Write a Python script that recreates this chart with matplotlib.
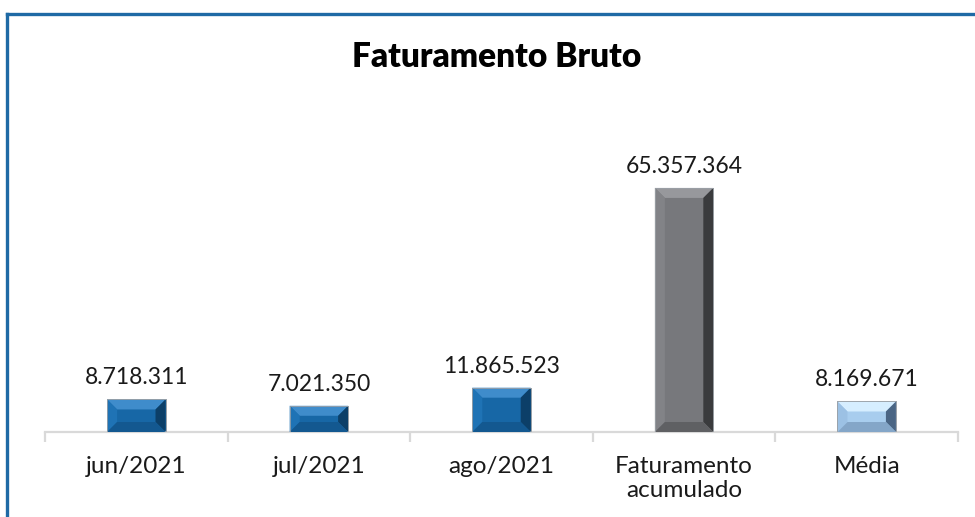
import matplotlib.pyplot as plt
import numpy as np
from matplotlib.patches import Polygon
from matplotlib.lines import Line2D

plt.rcParams['font.family'] = ['Lato', 'DejaVu Sans']

# dados
categorias = ["jun/2021", "jul/2021", "ago/2021", "Faturamento\nacumulado", "Média"]
valores = [8718311, 7021350, 11865523, 65357364, 8169671]
rotulos = ["8.718.311", "7.021.350", "11.865.523", "65.357.364", "8.169.671"]

# cores: frente, topo, esquerda, direita, base
cores = [
    ("#1767a6", "#3f8ccb", "#1f73b5", "#0c3f68", "#135890"),
    ("#1767a6", "#3f8ccb", "#1f73b5", "#0c3f68", "#135890"),
    ("#1767a6", "#3f8ccb", "#1f73b5", "#0c3f68", "#135890"),
    ("#77787c", "#97989c", "#828387", "#3a3b3d", "#5f6063"),
    ("#a8cdee", "#d6eeff", "#9cc1e4", "#4a6584", "#84a6c8"),
]

fig = plt.figure(figsize=(9.75, 5.17), dpi=100)
W, H = 975, 517
ax = fig.add_axes([45 / W, (H - 432) / H, (958 - 45) / W, (432 - 100) / H])

x = np.arange(len(categorias))
largura = 0.32
ymax = 88.9e6
ax.set_xlim(-0.5, len(categorias) - 0.5)
ax.set_ylim(0, ymax)

barras = ax.bar(x, valores, width=largura, color=[c[0] for c in cores],
                edgecolor="#9aa0a6", linewidth=0.6, zorder=2)

# efeito chanfrado
px_x = 913 / len(categorias)
px_y = 332 / ymax
b_px = 10
for barra, c in zip(barras, cores):
    x0, y0 = barra.get_x(), barra.get_y()
    x1, y1 = x0 + barra.get_width(), y0 + barra.get_height()
    bx = b_px / px_x
    by = min(b_px, barra.get_height() * px_y / 2 - 3) / px_y
    ix0, ix1 = x0 + bx, x1 - bx
    iy0, iy1 = y0 + by, y1 - by
    partes = [
        ([(x0, y1), (x1, y1), (ix1, iy1), (ix0, iy1)], c[1]),
        ([(x0, y0), (x0, y1), (ix0, iy1), (ix0, iy0)], c[2]),
        ([(x1, y0), (x1, y1), (ix1, iy1), (ix1, iy0)], c[3]),
        ([(x0, y0), (x1, y0), (ix1, iy0), (ix0, iy0)], c[4]),
    ]
    for pts, cor in partes:
        ax.add_patch(Polygon(pts, closed=True, facecolor=cor, edgecolor="none", zorder=3))
    ax.add_patch(Polygon([(x0, y0), (x1, y0), (x1, y1), (x0, y1)], closed=True,
                         facecolor="none", edgecolor="#9aa0a6", linewidth=0.6, zorder=4))

for xi, v, r in zip(x, valores, rotulos):
    ax.annotate(r, (xi, v), xytext=(0, 8), textcoords="offset points",
                ha="center", va="bottom", fontsize=16.5, color="#1a1a1a")

for s in ["top", "right", "left"]:
    ax.spines[s].set_visible(False)
ax.spines["bottom"].set_color("#d9d9d9")
ax.spines["bottom"].set_linewidth(1.6)
ax.set_yticks([])
ax.set_xticks(x)
ax.set_xticklabels(categorias, fontsize=17.5, color="#1a1a1a", linespacing=1.2)
ax.tick_params(axis="x", length=0, pad=17)
ax.set_xticks(np.arange(len(categorias) + 1) - 0.5, minor=True)
ax.tick_params(axis="x", which="minor", length=7, width=1.6, color="#d9d9d9")

fig.text(497 / W, 1 - 57 / H, "Faturamento Bruto", ha="center", va="center",
         fontsize=24, fontweight="heavy", color="#000000")

# borda azul
fig.add_artist(Line2D([7 / W, 7 / W], [0, 1 - 14 / H], color="#1f6aa5", linewidth=2.4))
fig.add_artist(Line2D([7 / W, 1], [1 - 14 / H, 1 - 14 / H], color="#1f6aa5", linewidth=2.4))

fig.savefig("out.png", dpi=100)
